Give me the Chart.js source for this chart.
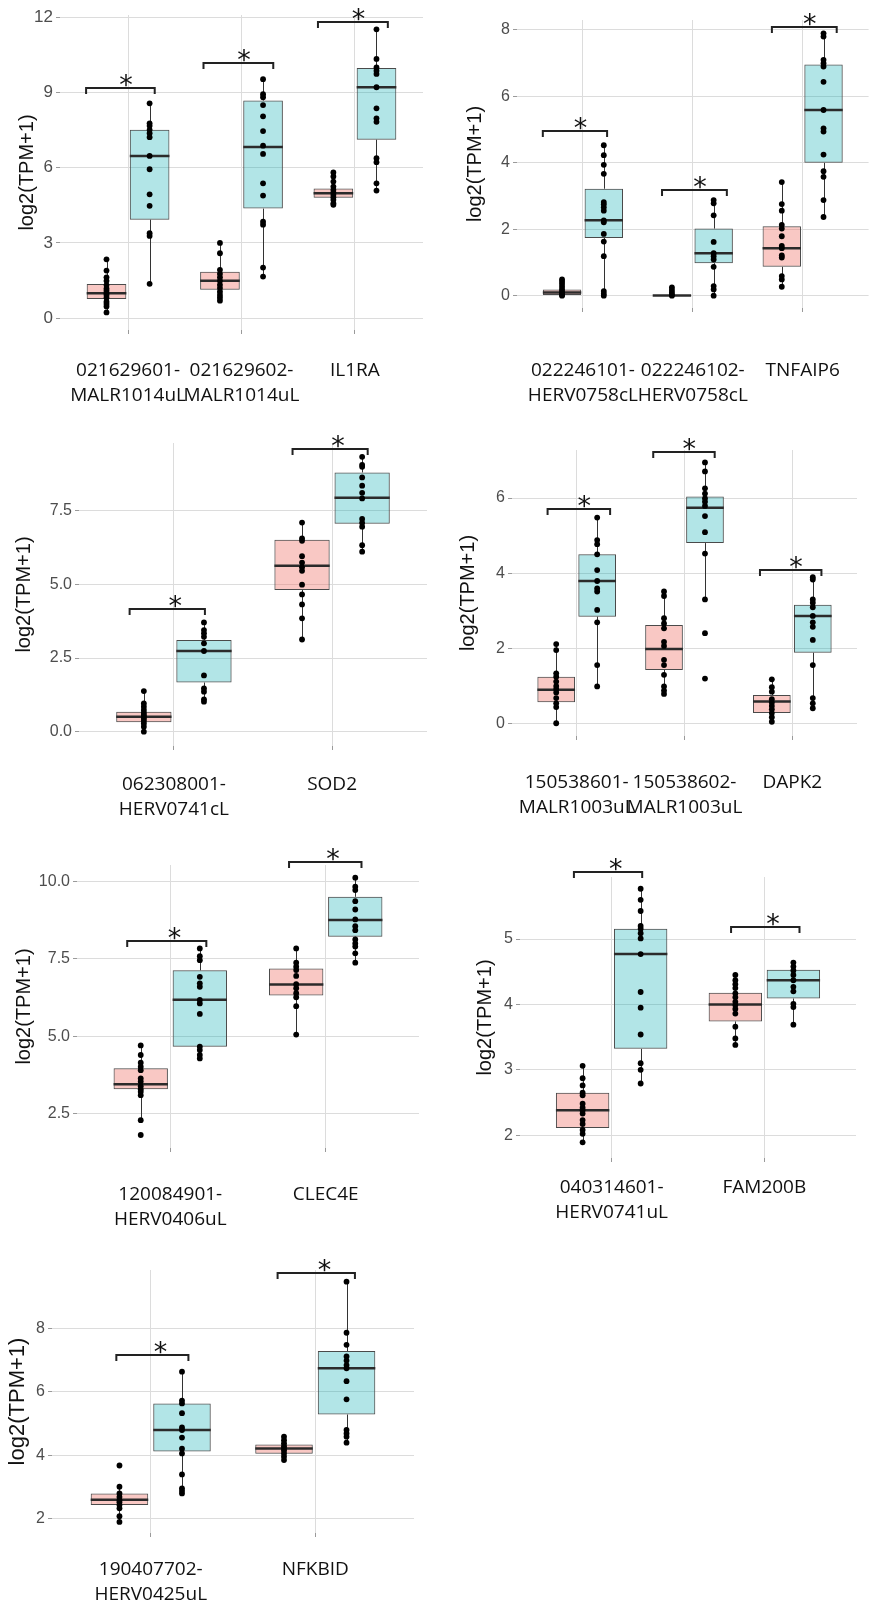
<!DOCTYPE html>
<html>
<head>
<meta charset="utf-8">
<script src="https://cdn.jsdelivr.net/npm/chart.js@4.4.1/dist/chart.umd.min.js"></script>
<style>
  html, body { margin: 0; padding: 0; background: #fff; }
  #fig { position: relative; width: 887px; height: 1609px; overflow: hidden; background: #fff; }
  #fig canvas { position: absolute; }
</style>
</head>
<body>
<div id="fig"></div>
<script>
// ---- data: box stats are [low whisker, q1, median, q3, high whisker] ----
// brackets are [left offset, right offset, height] relative to each category

const p1Categories = [['021629601-', 'MALR1014uL'], ['021629602-', 'MALR1014uL'], ['IL1RA']];
const p1YTicks = [0, 3, 6, 9, 12];
const p1YLabels = ['0', '3', '6', '9', '12'];
const p1YRange = [-0.47, 12.09];
const p1CtrlBox = [[0.23, 0.77, 1.0, 1.36, 2.35], [0.7, 1.13, 1.49, 1.85, 3.0], [4.52, 4.8, 4.98, 5.17, 5.81]];
const p1CaseBox = [[1.37, 3.93, 6.47, 7.51, 8.57], [1.66, 4.37, 6.83, 8.68, 9.53], [5.09, 7.12, 9.21, 9.98, 11.52]];
const p1CtrlDots = [
  [2.35, 1.9, 1.63, 1.49, 1.32, 1.18, 1.1, 1.0, 0.93, 0.82, 0.66, 0.57, 0.47, 0.23],
  [3.0, 2.59, 1.93, 1.77, 1.63, 1.49, 1.33, 1.2, 1.06, 0.93, 0.82, 0.7],
  [5.81, 5.65, 5.45, 5.25, 5.12, 5.01, 4.92, 4.82, 4.72, 4.58, 4.52]
];
const p1CaseDots = [
  [8.57, 7.77, 7.67, 7.51, 7.38, 7.22, 6.47, 5.94, 4.94, 4.48, 3.39, 3.28, 1.37],
  [9.53, 8.93, 8.81, 8.5, 8.05, 7.46, 6.88, 6.55, 5.38, 4.89, 3.85, 3.73, 2.02, 1.66],
  [11.52, 10.34, 10.0, 9.87, 9.74, 9.21, 8.37, 7.97, 7.83, 6.38, 6.22, 5.38, 5.09]
];
const p1Brackets = [[-0.37, 0.235, 9.17], [-0.335, 0.28, 10.19], [-0.326, 0.29, 11.83]];

const p2Categories = [['022246101-', 'HERV0758cL'], ['022246102-', 'HERV0758cL'], ['TNFAIP6']];
const p2YTicks = [0, 2, 4, 6, 8];
const p2YLabels = ['0', '2', '4', '6', '8'];
const p2YRange = [-0.37, 8.3];
const p2CtrlBox = [[0, 0.02, 0.1, 0.19, 0.49], [0, 0, 0.01, 0.02, 0.25], [0.27, 0.87, 1.43, 2.09, 3.42]];
const p2CaseBox = [[0, 1.74, 2.27, 3.22, 4.53], [0, 0.98, 1.28, 2.02, 2.88], [2.37, 4.0, 5.59, 6.96, 7.9]];
const p2CtrlDots = [
  [0.49, 0.42, 0.35, 0.27, 0.19, 0.12, 0.07, 0.02, 0],
  [0.25, 0.17, 0.1, 0.03, 0],
  [3.42, 2.76, 2.56, 2.13, 2.02, 1.79, 1.5, 1.43, 1.21, 1.15, 0.59, 0.49, 0.27]
];
const p2CaseDots = [
  [4.53, 4.23, 3.94, 3.67, 2.82, 2.75, 2.66, 2.56, 2.27, 2.21, 1.86, 1.63, 1.19, 0.14, 0.06, 0],
  [2.88, 2.78, 2.42, 1.62, 1.28, 1.19, 1.09, 0.87, 0.29, 0.19, 0],
  [7.9, 7.8, 7.1, 7.0, 6.9, 6.44, 5.59, 5.04, 4.94, 4.25, 3.75, 3.58, 2.88, 2.37]
];
const p2Brackets = [[-0.365, 0.22, 4.97], [-0.28, 0.31, 3.18], [-0.28, 0.31, 8.1]];

const p3Categories = [['062308001-', 'HERV0741cL'], ['SOD2']];
const p3YTicks = [0, 2.5, 5, 7.5];
const p3YLabels = ['0.0', '2.5', '5.0', '7.5'];
const p3YRange = [-0.485, 9.8];
const p3CtrlBox = [[0, 0.32, 0.51, 0.68, 1.38], [3.13, 4.81, 5.63, 6.52, 7.1]];
const p3CaseBox = [[1.02, 1.67, 2.74, 3.11, 3.71], [6.11, 7.06, 7.94, 8.8, 9.33]];
const p3CtrlDots = [
  [1.38, 0.96, 0.85, 0.74, 0.64, 0.57, 0.51, 0.45, 0.37, 0.28, 0.17, 0],
  [7.1, 6.56, 6.48, 5.96, 5.74, 5.58, 5.46, 4.99, 4.66, 4.32, 3.85, 3.13]
];
const p3CaseDots = [
  [3.71, 3.45, 3.34, 3.22, 3.0, 2.74, 1.91, 1.47, 1.36, 1.1, 1.02],
  [9.33, 9.06, 8.99, 8.63, 8.35, 8.11, 7.92, 7.22, 7.09, 6.96, 6.33, 6.11]
];
const p3Brackets = [[-0.28, 0.196, 4.17], [-0.25, 0.225, 9.59]];

const p4Categories = [['150538601-', 'MALR1003uL'], ['150538602-', 'MALR1003uL'], ['DAPK2']];
const p4YTicks = [0, 2, 4, 6];
const p4YLabels = ['0', '2', '4', '6'];
const p4YRange = [-0.34, 7.28];
const p4CtrlBox = [[0, 0.56, 0.89, 1.24, 2.11], [0.78, 1.42, 1.98, 2.62, 3.51], [0.04, 0.27, 0.58, 0.75, 1.17]];
const p4CaseBox = [[0.98, 2.84, 3.79, 4.5, 5.48], [3.3, 4.8, 5.74, 6.04, 6.95], [0.4, 1.88, 2.86, 3.16, 3.89]];
const p4CtrlDots = [
  [2.11, 1.95, 1.33, 1.24, 1.11, 0.99, 0.91, 0.82, 0.67, 0.53, 0.43, 0],
  [3.51, 3.39, 2.8, 2.66, 2.53, 2.17, 2.06, 1.69, 1.55, 1.29, 0.98, 0.87, 0.78],
  [1.17, 0.96, 0.84, 0.64, 0.55, 0.46, 0.37, 0.27, 0.16, 0.04]
];
const p4CaseDots = [
  [5.48, 4.88, 4.77, 4.5, 4.08, 3.79, 3.59, 3.51, 3.02, 2.69, 1.55, 0.98],
  [6.95, 6.71, 6.26, 6.12, 5.99, 5.9, 5.79, 5.52, 5.09, 4.52, 3.3, 2.4, 1.19],
  [3.89, 3.83, 3.3, 3.21, 3.09, 2.86, 2.69, 2.57, 2.22, 1.55, 0.67, 0.53, 0.4]
];
const p4Brackets = [[-0.27, 0.31, 5.7], [-0.29, 0.28, 7.23], [-0.3, 0.27, 4.08]];

const p5Categories = [['120084901-', 'HERV0406uL'], ['CLEC4E']];
const p5YTicks = [2.5, 5, 7.5, 10];
const p5YLabels = ['2.5', '5.0', '7.5', '10.0'];
const p5YRange = [1.38, 10.54];
const p5CtrlBox = [[2.28, 3.28, 3.44, 3.96, 4.7], [5.05, 6.32, 6.67, 7.19, 7.84]];
const p5CaseBox = [[4.28, 4.66, 6.18, 7.13, 7.84], [7.38, 8.22, 8.76, 9.51, 10.13]];
const p5CtrlDots = [
  [4.7, 4.39, 4.14, 4.01, 3.9, 3.63, 3.53, 3.38, 3.28, 3.2, 3.09, 2.28, 1.8],
  [7.84, 7.38, 7.25, 7.14, 6.95, 6.68, 6.55, 6.39, 6.26, 5.97, 5.05]
];
const p5CaseDots = [
  [7.84, 7.59, 7.46, 6.92, 6.71, 6.6, 6.17, 6.06, 5.72, 4.66, 4.55, 4.39, 4.28],
  [10.13, 9.84, 9.73, 9.37, 9.1, 8.78, 8.56, 8.43, 8.13, 8.0, 7.9, 7.68, 7.38]
];
const p5Brackets = [[-0.277, 0.232, 8.09], [-0.236, 0.23, 10.65]];

const p6Categories = [['040314601-', 'HERV0741uL'], ['FAM200B']];
const p6YTicks = [2, 3, 4, 5];
const p6YLabels = ['2', '3', '4', '5'];
const p6YRange = [1.65, 5.95];
const p6CtrlBox = [[1.89, 2.11, 2.38, 2.65, 3.06], [3.38, 3.74, 4.0, 4.18, 4.45]];
const p6CaseBox = [[2.79, 3.32, 4.77, 5.16, 5.77], [3.69, 4.09, 4.37, 4.53, 4.64]];
const p6CtrlDots = [
  [3.06, 2.87, 2.76, 2.65, 2.61, 2.48, 2.42, 2.38, 2.33, 2.23, 2.17, 2.08, 2.02, 1.89],
  [4.45, 4.37, 4.31, 4.25, 4.17, 4.11, 4.04, 3.99, 3.93, 3.86, 3.66, 3.48, 3.38]
];
const p6CaseDots = [
  [5.77, 5.6, 5.43, 5.2, 5.16, 5.09, 5.01, 4.77, 4.19, 3.95, 3.54, 3.1, 3.0, 2.79],
  [4.64, 4.58, 4.52, 4.45, 4.37, 4.27, 4.2, 4.01, 3.96, 3.69]
];
const p6Brackets = [[-0.247, 0.2, 6.02], [-0.218, 0.23, 5.19]];

const p7Categories = [['190407702-', 'HERV0425uL'], ['NFKBID']];
const p7YTicks = [2, 4, 6, 8];
const p7YLabels = ['2', '4', '6', '8'];
const p7YRange = [1.55, 9.85];
const p7CtrlBox = [[1.9, 2.43, 2.6, 2.8, 3.01], [3.85, 4.05, 4.22, 4.34, 4.59]];
const p7CaseBox = [[2.8, 4.12, 4.8, 5.64, 6.64], [4.4, 5.29, 6.75, 7.29, 9.48]];
const p7CtrlDots = [
  [3.68, 3.01, 2.8, 2.69, 2.59, 2.52, 2.43, 2.33, 2.08, 1.9],
  [4.59, 4.48, 4.38, 4.29, 4.22, 4.15, 4.06, 3.96, 3.85]
];
const p7CaseDots = [
  [6.64, 5.73, 5.64, 5.33, 4.88, 4.8, 4.56, 4.21, 4.06, 3.4, 2.96, 2.88, 2.8],
  [9.48, 7.87, 7.49, 7.12, 6.99, 6.85, 6.75, 6.34, 5.77, 4.8, 4.69, 4.59, 4.4]
];
const p7Brackets = [[-0.209, 0.229, 7.17], [-0.229, 0.241, 9.75]];

// ---- styling ----
const DODGE = 0.19;
const GRID = '#dcdcdc';
const TICK = '#9a9a9a';
const CTRL_FILL = 'rgba(240,110,100,0.38)';
const CASE_FILL = 'rgba(0,170,175,0.30)';
const BOX_LINE = '#4a4a4a';
const LABEL_FONT = '"Open Sans", sans-serif';
const AXIS_FONT = '"Liberation Sans", Arial, sans-serif';
const LABEL_SIZE = 19;

const panels = [
  { categories: p1Categories, yTicks: p1YTicks, yLabels: p1YLabels, yRange: p1YRange, ctrlBox: p1CtrlBox, caseBox: p1CaseBox, ctrlDots: p1CtrlDots, caseDots: p1CaseDots, brackets: p1Brackets },
  { categories: p2Categories, yTicks: p2YTicks, yLabels: p2YLabels, yRange: p2YRange, ctrlBox: p2CtrlBox, caseBox: p2CaseBox, ctrlDots: p2CtrlDots, caseDots: p2CaseDots, brackets: p2Brackets },
  { categories: p3Categories, yTicks: p3YTicks, yLabels: p3YLabels, yRange: p3YRange, ctrlBox: p3CtrlBox, caseBox: p3CaseBox, ctrlDots: p3CtrlDots, caseDots: p3CaseDots, brackets: p3Brackets },
  { categories: p4Categories, yTicks: p4YTicks, yLabels: p4YLabels, yRange: p4YRange, ctrlBox: p4CtrlBox, caseBox: p4CaseBox, ctrlDots: p4CtrlDots, caseDots: p4CaseDots, brackets: p4Brackets },
  { categories: p5Categories, yTicks: p5YTicks, yLabels: p5YLabels, yRange: p5YRange, ctrlBox: p5CtrlBox, caseBox: p5CaseBox, ctrlDots: p5CtrlDots, caseDots: p5CaseDots, brackets: p5Brackets },
  { categories: p6Categories, yTicks: p6YTicks, yLabels: p6YLabels, yRange: p6YRange, ctrlBox: p6CtrlBox, caseBox: p6CaseBox, ctrlDots: p6CtrlDots, caseDots: p6CaseDots, brackets: p6Brackets },
  { categories: p7Categories, yTicks: p7YTicks, yLabels: p7YLabels, yRange: p7YRange, ctrlBox: p7CtrlBox, caseBox: p7CaseBox, ctrlDots: p7CtrlDots, caseDots: p7CaseDots, brackets: p7Brackets }
];

// canvas rect, plot rect [left, top, right, bottom] in page px, first label line centre, title centre
const layouts = [
  { left: 0, top: 0, width: 440, height: 410, plot: [60, 15, 423, 330], labelY: 371, titleX: 27, tickSize: 17, titleSize: 20 },
  { left: 440, top: 0, width: 447, height: 410, plot: [517, 20, 887, 308], labelY: 371, titleX: 475, tickSize: 16, titleSize: 20 },
  { left: 0, top: 420, width: 440, height: 410, plot: [79, 443, 427, 746], labelY: 785, titleX: 24, tickSize: 16, titleSize: 20 },
  { left: 440, top: 420, width: 447, height: 410, plot: [512, 450, 857, 736], labelY: 783, titleX: 468, tickSize: 16, titleSize: 20 },
  { left: 0, top: 840, width: 440, height: 400, plot: [77, 865, 419, 1148], labelY: 1195, titleX: 24, tickSize: 16, titleSize: 20 },
  { left: 440, top: 840, width: 447, height: 400, plot: [520, 877, 856, 1158], labelY: 1188, titleX: 485, tickSize: 16, titleSize: 20 },
  { left: 0, top: 1245, width: 440, height: 364, plot: [52, 1270, 414, 1533], labelY: 1570, titleX: 17.5, tickSize: 16, titleSize: 22 }
];

// whiskers, medians and significance brackets, drawn through the chart's scales
function decor(p, boxes) {
  return {
    id: 'decor',
    beforeDatasetDraw(chart, args) {
      if (args.index !== 0) return;
      const { ctx, scales: { x, y } } = chart;
      ctx.save();
      ctx.strokeStyle = '#333';
      ctx.lineWidth = 1;
      boxes.forEach(b => {
        const px = Math.round(x.getPixelForValue(b.x)) + 0.5;
        ctx.beginPath();
        ctx.moveTo(px, y.getPixelForValue(b.s[0]));
        ctx.lineTo(px, y.getPixelForValue(b.s[1]));
        ctx.moveTo(px, y.getPixelForValue(b.s[3]));
        ctx.lineTo(px, y.getPixelForValue(b.s[4]));
        ctx.stroke();
      });
      ctx.restore();
    },
    afterDatasetDraw(chart, args) {
      if (args.index !== 0) return;
      const { ctx, scales: { y } } = chart;
      const meta = chart.getDatasetMeta(0);
      ctx.save();
      ctx.strokeStyle = '#2b2b2b';
      ctx.lineWidth = 2.5;
      meta.data.forEach((bar, k) => {
        const py = y.getPixelForValue(boxes[k].s[2]);
        ctx.beginPath();
        ctx.moveTo(bar.x - bar.width / 2, py);
        ctx.lineTo(bar.x + bar.width / 2, py);
        ctx.stroke();
      });
      ctx.restore();
    },
    afterDraw(chart) {
      const { ctx, scales: { x, y } } = chart;
      ctx.save();
      ctx.strokeStyle = '#222';
      ctx.lineWidth = 2;
      ctx.fillStyle = '#111';
      ctx.font = '27px "DejaVu Sans", sans-serif';
      ctx.textAlign = 'center';
      ctx.textBaseline = 'alphabetic';
      const star = ctx.measureText('*');
      p.brackets.forEach((b, i) => {
        const x1 = x.getPixelForValue(i + 1 + b[0]);
        const x2 = x.getPixelForValue(i + 1 + b[1]);
        const yy = Math.round(y.getPixelForValue(b[2]));
        ctx.beginPath();
        ctx.moveTo(x1, yy + 6);
        ctx.lineTo(x1, yy);
        ctx.lineTo(x2, yy);
        ctx.lineTo(x2, yy + 6);
        ctx.stroke();
        // star glyph sits just on top of the bracket
        const base = yy - 1 - star.actualBoundingBoxDescent;
        ctx.fillText('*', x.getPixelForValue(i + 1 + (b[0] + b[1]) / 2 + 0.05), base);
      });
      ctx.restore();
    }
  };
}

function drawPanel(p, lay) {
  const canvas = document.createElement('canvas');
  canvas.width = lay.width;
  canvas.height = lay.height;
  canvas.style.left = lay.left + 'px';
  canvas.style.top = lay.top + 'px';
  document.getElementById('fig').appendChild(canvas);

  const [pl, pt, pr, pb] = lay.plot;
  const yW = pl - lay.left;
  const xH = lay.top + lay.height - pb;
  const n = p.categories.length;
  const labelLine = 25;
  const titleLine = lay.titleSize * 1.2;

  const boxes = [];
  const dots = [];
  for (let i = 0; i < n; i++) {
    boxes.push({ x: i + 1 - DODGE, s: p.ctrlBox[i], fill: CTRL_FILL });
    boxes.push({ x: i + 1 + DODGE, s: p.caseBox[i], fill: CASE_FILL });
    p.ctrlDots[i].forEach(v => dots.push({ x: i + 1 - DODGE, y: v }));
    p.caseDots[i].forEach(v => dots.push({ x: i + 1 + DODGE, y: v }));
  }

  new Chart(canvas, {
    type: 'bar',
    data: {
      datasets: [
        {
          type: 'bar',
          data: boxes.map(b => ({ x: b.x, y: [b.s[1], b.s[3]] })),
          backgroundColor: boxes.map(b => b.fill),
          borderColor: BOX_LINE,
          borderWidth: 1,
          borderSkipped: false,
          barPercentage: 0.92,
          categoryPercentage: 1,
          order: 1
        },
        {
          type: 'scatter',
          data: dots,
          pointRadius: 2.9,
          pointBackgroundColor: '#000',
          pointBorderWidth: 0,
          order: 0
        }
      ]
    },
    options: {
      responsive: false,
      animation: false,
      events: [],
      layout: { padding: { top: pt - lay.top, right: lay.left + lay.width - pr, left: 0, bottom: 0 } },
      plugins: { legend: { display: false }, tooltip: { enabled: false } },
      scales: {
        x: {
          type: 'linear',
          min: 0.4,
          max: n + 0.6,
          offset: false,
          afterBuildTicks: s => { s.ticks = p.categories.map((c, i) => ({ value: i + 1 })); },
          afterFit: s => { s.height = xH; },
          grid: { color: GRID, offset: false, tickLength: 4, tickColor: TICK },
          border: { display: false },
          ticks: {
            autoSkip: false,
            maxRotation: 0,
            color: '#111',
            padding: lay.labelY - pb - 4 - labelLine / 2,
            font: { family: LABEL_FONT, size: LABEL_SIZE, lineHeight: labelLine + 'px' },
            callback: (v, i) => p.categories[i]
          }
        },
        y: {
          type: 'linear',
          min: p.yRange[0],
          max: p.yRange[1],
          afterBuildTicks: s => { s.ticks = p.yTicks.map(v => ({ value: v })); },
          afterFit: s => { s.width = yW; },
          grid: { color: GRID, tickLength: 4, tickColor: TICK },
          border: { display: false },
          ticks: {
            color: '#4d4d4d',
            padding: 3,
            font: { family: AXIS_FONT, size: lay.tickSize },
            callback: (v, i) => p.yLabels[i]
          },
          title: {
            display: true,
            text: 'log2(TPM+1)',
            color: '#111',
            font: { family: AXIS_FONT, size: lay.titleSize },
            padding: { top: lay.titleX - lay.left - titleLine / 2, bottom: 0 }
          }
        }
      }
    },
    plugins: [decor(p, boxes)]
  });
}

panels.forEach((p, i) => drawPanel(p, layouts[i]));
</script>
</body>
</html>
